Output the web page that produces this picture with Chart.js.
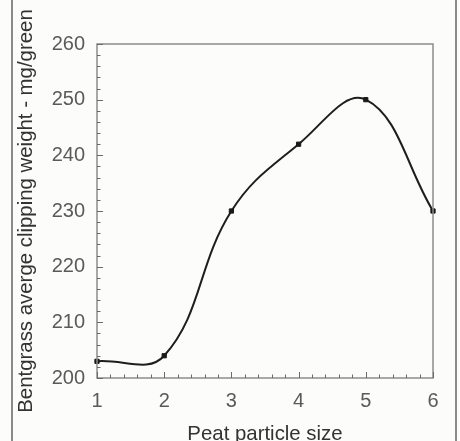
<!DOCTYPE html>
<html>
<head>
<meta charset="utf-8">
<script src="https://cdn.jsdelivr.net/npm/chart.js@4.4.1/dist/chart.umd.min.js"></script>
<style>
  html, body { margin: 0; padding: 0; background: #fcfcfa; }
  #wrap { position: relative; width: 460px; height: 441px; overflow: hidden; }
  #frame { position: absolute; left: 11px; top: 0; width: 446px; height: 441px;
           border-left: 2px solid #8a8a8a; border-right: 2px solid #8a8a8a; box-sizing: border-box; pointer-events: none; }
  canvas { position: absolute; left: 0; top: 0; }
</style>
</head>
<body>
<div id="wrap">
  <canvas id="c" width="460" height="441"></canvas>
  <div id="frame"></div>
</div>
<script>
const peatSizes = [1, 2, 3, 4, 5, 6];
const clippingWeight = [203, 204, 230, 242, 250, 230];
const xTicks = [1, 2, 3, 4, 5, 6];
const yTicks = [200, 210, 220, 230, 240, 250, 260];
const xTitle = 'Peat particle size';
const yTitle = 'Bentgrass averge clipping weight - mg/green';

const points = peatSizes.map((x, i) => ({ x: x, y: clippingWeight[i] }));

const frameTicks = {
  id: 'frameTicks',
  afterDraw(chart) {
    const { ctx, chartArea: a, scales } = chart;
    const xs = scales.x, ys = scales.y;
    ctx.save();
    ctx.strokeStyle = '#8c8c8c';
    ctx.lineWidth = 1.5;
    ctx.strokeRect(a.left, a.top, a.right - a.left, a.bottom - a.top);
    ctx.strokeStyle = '#6a6a6a';
    ctx.lineWidth = 1;
    for (let v = ys.min; v <= ys.max + 1e-9; v += 2) {
      const py = Math.round(ys.getPixelForValue(v)) + 0.5;
      const major = Math.abs(v % 10) < 1e-9;
      ctx.beginPath();
      ctx.moveTo(a.left, py);
      ctx.lineTo(a.left + (major ? 6 : 3.5), py);
      ctx.stroke();
    }
    for (let k = 0; k <= 25; k++) {
      const v = xs.min + k * 0.2;
      const px = Math.round(xs.getPixelForValue(v)) + 0.5;
      const major = k % 5 === 0;
      ctx.beginPath();
      ctx.moveTo(px, a.bottom);
      ctx.lineTo(px, a.bottom - (major ? 6 : 3.5));
      ctx.stroke();
    }
    ctx.restore();
  }
};

new Chart(document.getElementById('c'), {
  type: 'scatter',
  data: {
    datasets: [{
      data: points,
      showLine: true,
      borderColor: '#1e1e1e',
      borderWidth: 2,
      tension: 0.4,
      pointStyle: 'rect',
      pointRadius: 3,
      pointBackgroundColor: '#1a1a1a',
      pointBorderColor: '#1a1a1a',
      pointBorderWidth: 1,
      clip: false
    }]
  },
  options: {
    responsive: false,
    animation: false,
    events: [],
    layout: { padding: { left: 0, top: 44, right: 27, bottom: 0 } },
    plugins: { legend: { display: false }, tooltip: { enabled: false } },
    scales: {
      x: {
        type: 'linear',
        min: 1, max: 6,
        afterFit(s) { s.height = 63; },
        afterBuildTicks(s) { s.ticks = xTicks.map(v => ({ value: v })); },
        grid: { display: false, drawTicks: false },
        border: { display: false },
        ticks: {
          padding: 11,
          color: '#5a5a5a',
          font: { family: "'Liberation Sans', Arial, sans-serif", size: 20 }
        },
        title: {
          display: true,
          text: xTitle,
          color: '#333',
          padding: { top: 0, bottom: -4 },
          font: { family: "'Liberation Sans', Arial, sans-serif", size: 20.4, lineHeight: 1 }
        }
      },
      y: {
        type: 'linear',
        min: 200, max: 260,
        afterFit(s) { s.width = 97; },
        afterBuildTicks(s) { s.ticks = yTicks.map(v => ({ value: v })); },
        grid: { display: false, drawTicks: false },
        border: { display: false },
        ticks: {
          padding: 12,
          color: '#5a5a5a',
          font: { family: "'Liberation Sans', Arial, sans-serif", size: 20 }
        },
        title: {
          display: true,
          text: yTitle,
          color: '#333',
          padding: { top: 16, bottom: 0 },
          font: { family: "'Liberation Sans', Arial, sans-serif", size: 20.4, lineHeight: 1 }
        }
      }
    }
  },
  plugins: [frameTicks]
});
</script>
</body>
</html>
